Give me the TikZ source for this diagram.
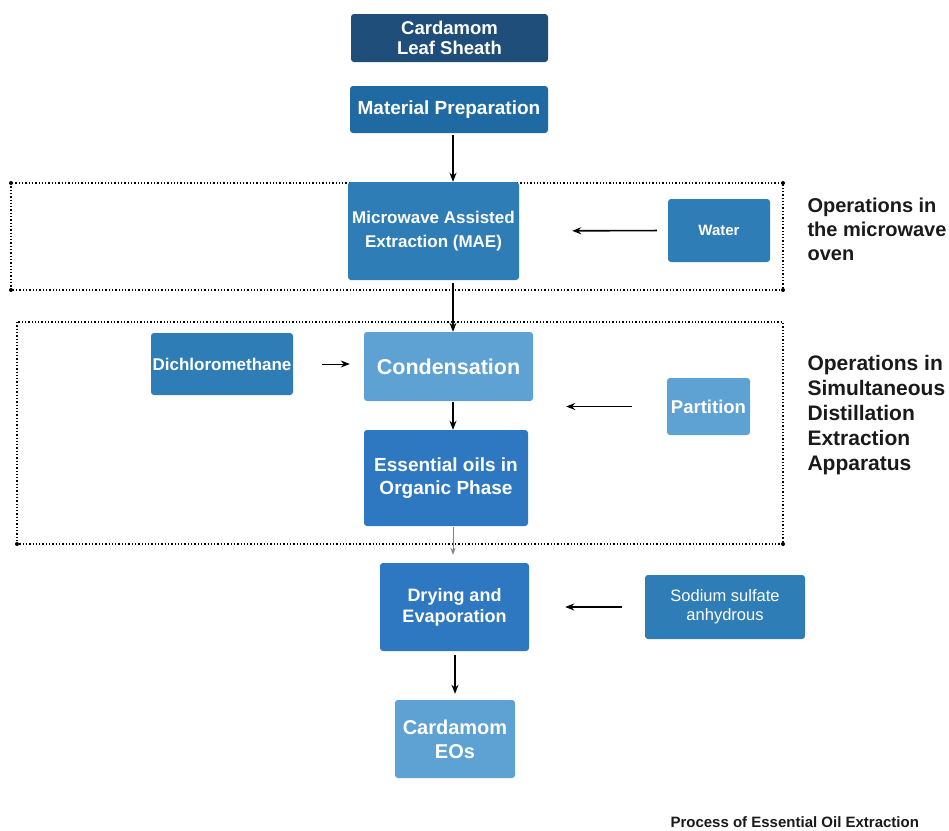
\documentclass[tikz,border=0pt]{standalone}
\usepackage{fontspec}
\setmainfont{Liberation Sans}
\usetikzlibrary{arrows.meta}
\definecolor{navy}{HTML}{1F4E7B}
\definecolor{midblue}{HTML}{1F6AA3}
\definecolor{boxblue}{HTML}{2E7DB6}
\definecolor{lightblue}{HTML}{5EA1D3}
\definecolor{royal}{HTML}{2E78C2}
\definecolor{labelgray}{HTML}{1A1A1A}
\tikzset{
  stepbox/.style={rounded corners=3pt, inner sep=0pt, align=center, text=white,
    font=\bfseries},
  arr/.style={line width=1.3pt, -{Stealth[length=9pt,width=7pt]}},
  grayarr/.style={line width=0.9pt, draw=gray, -{Stealth[length=7pt,width=5pt,fill=gray]}},
  frame/.style={line width=1.3pt, dotted},
  cornerdot/.style={circle, fill=black, inner sep=0pt, minimum size=4pt},
  sidelabel/.style={anchor=north west, align=left, font=\bfseries, text=labelgray}
}
\begin{document}
\begin{tikzpicture}[x=1pt,y=-1pt]
\useasboundingbox[fill=white] (0,0) rectangle (949,830);

% dotted frames for the two apparatus stages
\draw[frame] (11,183) rectangle (783,290);
\draw[frame] (17,322) rectangle (783,544);
\foreach \p in {(11,183),(783,183),(11,290),(783,290),(17,544),(783,544)}
  \node[cornerdot] at \p {};

% process steps
\node[stepbox, fill=navy, minimum width=197pt, minimum height=48pt,
  font=\fontsize{18.5}{20}\bfseries] (sheath) at (449.5,38) {Cardamom\\Leaf Sheath};
\node[stepbox, fill=midblue, minimum width=198pt, minimum height=47pt,
  font=\fontsize{19}{21}\bfseries] (prep) at (449,109.5) {Material Preparation};
\node[stepbox, fill=boxblue, minimum width=171pt, minimum height=98pt,
  font=\fontsize{17}{24}\bfseries] (mae) at (433.5,231) {Microwave Assisted\\Extraction (MAE)};
\node[stepbox, fill=boxblue, minimum width=102pt, minimum height=63pt,
  font=\fontsize{15}{17}\bfseries] (water) at (719,230.5) {Water};
\node[stepbox, fill=boxblue, minimum width=142pt, minimum height=62pt,
  font=\fontsize{17}{19}\bfseries] (dcm) at (222,364) {Dichloromethane};
\node[stepbox, fill=lightblue, minimum width=169pt, minimum height=69pt,
  font=\fontsize{21.5}{24}\bfseries] (cond) at (448.5,366.5) {Condensation};
\node[stepbox, fill=lightblue, minimum width=83pt, minimum height=57pt,
  font=\fontsize{18.5}{21}\bfseries] (part) at (708.5,406.5) {Partition};
\node[stepbox, fill=royal, minimum width=164pt, minimum height=96pt,
  font=\fontsize{19}{23}\bfseries] (oil) at (446,478) {Essential oils in\\Organic Phase};
\node[stepbox, fill=royal, minimum width=149pt, minimum height=88pt,
  font=\fontsize{18}{21}\bfseries] (dry) at (454.5,607) {Drying and\\Evaporation};
\node[stepbox, fill=boxblue, minimum width=160pt, minimum height=64pt,
  font=\fontsize{16.5}{19}\selectfont] (sod) at (725,607) {Sodium sulfate\\anhydrous};
\node[stepbox, fill=lightblue, minimum width=120pt, minimum height=78pt,
  font=\fontsize{20}{24}\bfseries] (eos) at (455,739) {Cardamom\\EOs};

% stage labels
\node[sidelabel, font=\fontsize{20}{24}\bfseries] (lab1) at (804,194)
  {Operations in\\the microwave\\oven};
\node[sidelabel, font=\fontsize{21}{25}\bfseries] (lab2) at (804,352)
  {Operations in\\Simultaneous\\Distillation\\Extraction\\Apparatus};
\node[anchor=base west, font=\fontsize{15}{17}\bfseries, text=labelgray] (cap)
  at (667,827) {Process of Essential Oil Extraction};

% flow connectors
\draw[arr] ([xshift=4pt]prep.south) ++(0,2) -- ([xshift=19.5pt]mae.north) ;
\draw[arr, line width=1.6pt, shorten <=11pt, shorten >=53pt] (water.west) -- (mae.east);
\draw[arr] ([xshift=19.5pt]mae.south) ++(0,3) -- ([xshift=4.5pt]cond.north);
\draw[arr, shorten <=29pt, shorten >=14pt, line width=1pt] (dcm.east) -- (dcm.east -| cond.west);
\draw[arr, shorten <=35pt, shorten >=33pt] (part.west) -- (part.west -| cond.east);
\draw[arr] ([xshift=4.5pt]cond.south) ++(0,1) -- ([xshift=7pt]oil.north);
\draw[grayarr] ([xshift=7pt]oil.south) ++(0,1) -- ([xshift=-1.5pt,yshift=8pt]dry.north);
\draw[arr, line width=1.6pt, shorten <=23pt, shorten >=36pt] (sod.west) -- (dry.east);
\draw[arr] ([xshift=0.5pt]dry.south) ++(0,4) -- ([yshift=6pt]eos.north);
\end{tikzpicture}
\end{document}
